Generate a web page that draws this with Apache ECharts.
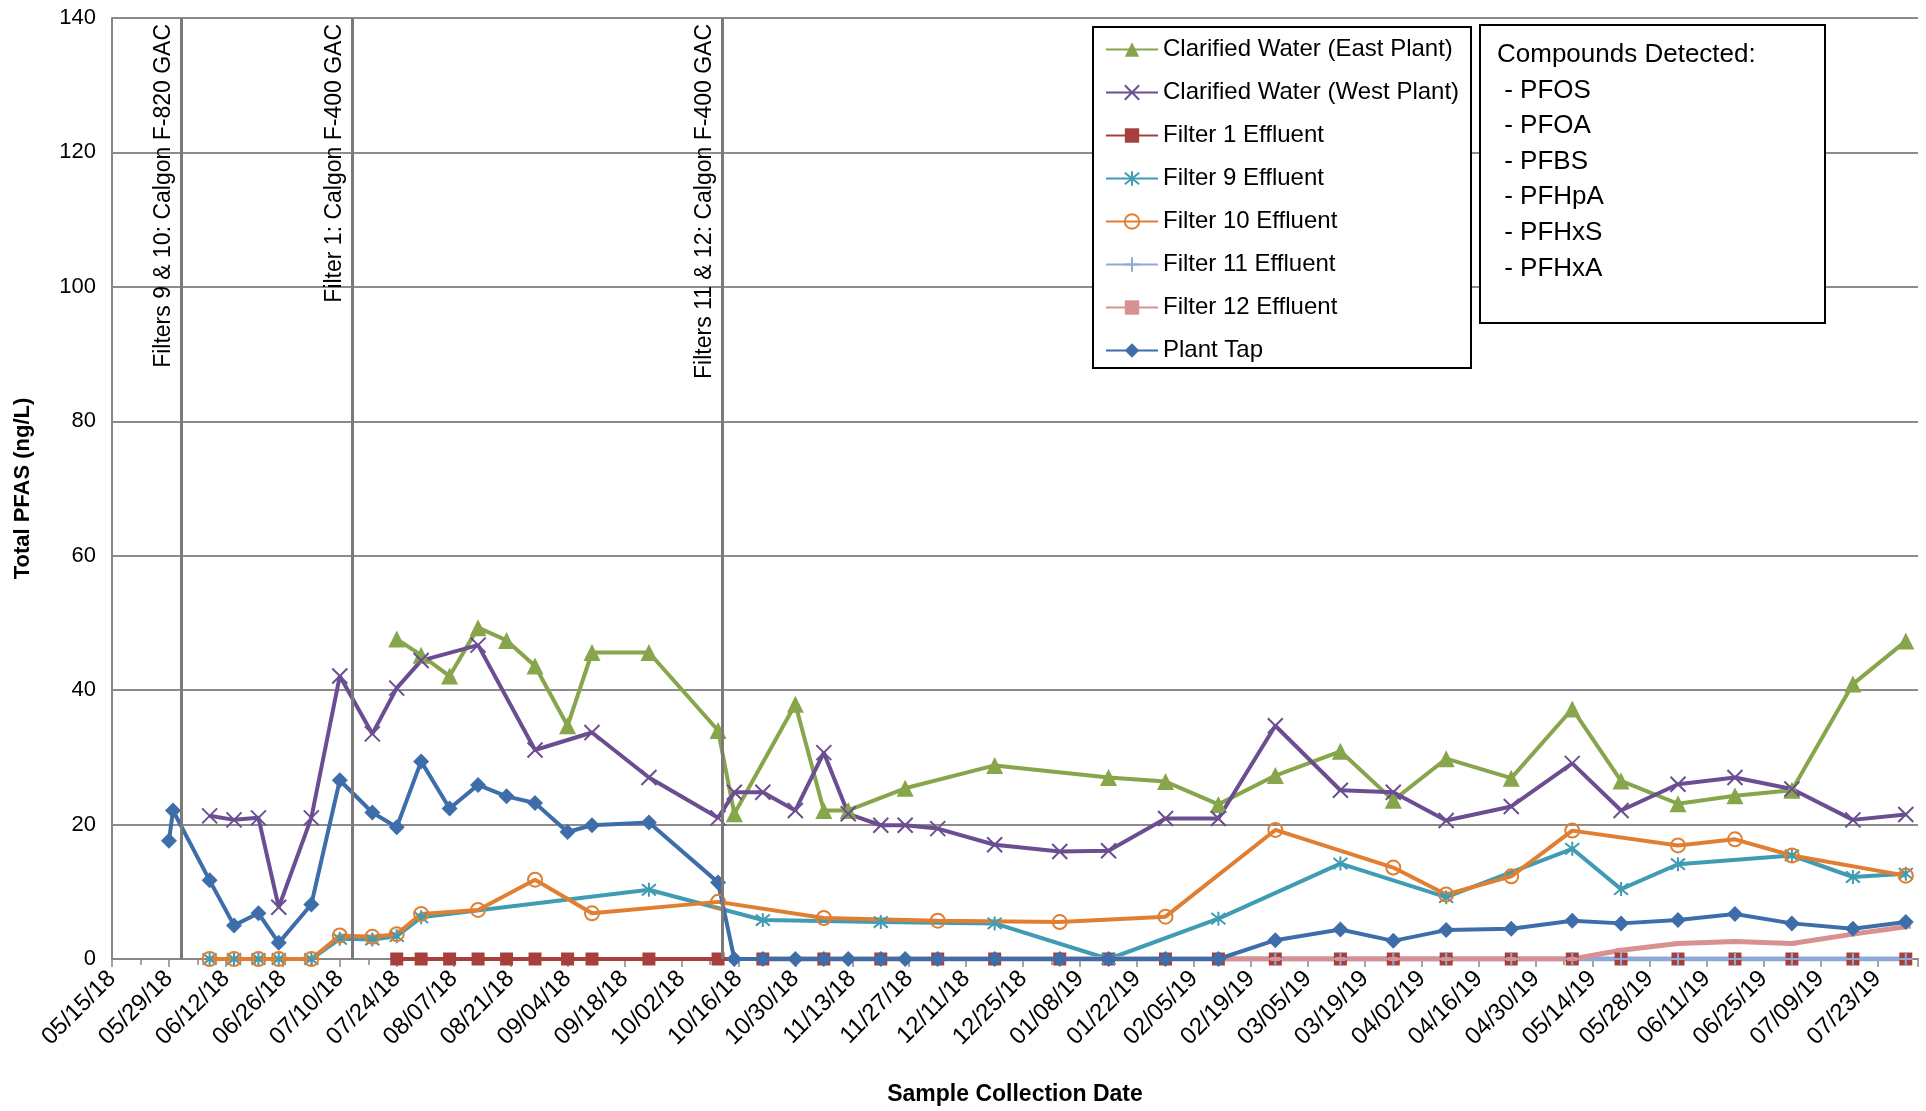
<!DOCTYPE html>
<html>
<head>
<meta charset="utf-8">
<script src="https://cdn.jsdelivr.net/npm/echarts@6/dist/echarts.min.js"></script>
<style>
    html, body { margin: 0; padding: 0; background: #fff; }
    #chart { width: 1926px; height: 1111px; }
</style>
</head>
<body>
<div id="chart"></div>
<script>
// sample data, [date, total PFAS ng/L]
var eastWater = [
    ['2018-07-24', 47.6], ['2018-07-30', 45.2], ['2018-08-06', 42.1], ['2018-08-13', 49.3],
    ['2018-08-20', 47.4], ['2018-08-27', 43.6], ['2018-09-04', 34.7], ['2018-09-10', 45.6],
    ['2018-09-24', 45.6], ['2018-10-11', 34.0], ['2018-10-15', 21.6], ['2018-10-30', 37.9],
    ['2018-11-06', 22.1], ['2018-11-12', 22.1], ['2018-11-26', 25.4], ['2018-12-18', 28.8],
    ['2019-01-15', 27.0], ['2019-01-29', 26.4], ['2019-02-11', 23.0], ['2019-02-25', 27.3],
    ['2019-03-13', 30.9], ['2019-03-26', 23.6], ['2019-04-08', 29.8], ['2019-04-24', 26.9],
    ['2019-05-09', 37.2], ['2019-05-21', 26.5], ['2019-06-04', 23.1], ['2019-06-18', 24.3],
    ['2019-07-02', 25.1], ['2019-07-17', 40.9], ['2019-07-30', 47.3]
];
var westWater = [
    ['2018-06-08', 21.3], ['2018-06-14', 20.7], ['2018-06-20', 21.0], ['2018-06-25', 7.7],
    ['2018-07-03', 21.0], ['2018-07-10', 42.1], ['2018-07-18', 33.5], ['2018-07-24', 40.3],
    ['2018-07-30', 44.4], ['2018-08-13', 46.7], ['2018-08-27', 31.1], ['2018-09-10', 33.7],
    ['2018-09-24', 27.0], ['2018-10-11', 21.0], ['2018-10-15', 24.8], ['2018-10-22', 24.8],
    ['2018-10-30', 22.1], ['2018-11-06', 30.7], ['2018-11-12', 21.6], ['2018-11-20', 19.9],
    ['2018-11-26', 19.9], ['2018-12-04', 19.4], ['2018-12-18', 17.0], ['2019-01-03', 16.0],
    ['2019-01-15', 16.1], ['2019-01-29', 20.9], ['2019-02-11', 20.9], ['2019-02-25', 34.7],
    ['2019-03-13', 25.1], ['2019-03-26', 24.8], ['2019-04-08', 20.6], ['2019-04-24', 22.7],
    ['2019-05-09', 29.1], ['2019-05-21', 22.1], ['2019-06-04', 26.0], ['2019-06-18', 27.0],
    ['2019-07-02', 25.3], ['2019-07-17', 20.7], ['2019-07-30', 21.5]
];
var filter1 = [
    ['2018-07-24', 0], ['2018-07-30', 0], ['2018-08-06', 0], ['2018-08-13', 0], ['2018-08-20', 0],
    ['2018-08-27', 0], ['2018-09-04', 0], ['2018-09-10', 0], ['2018-09-24', 0], ['2018-10-11', 0],
    ['2018-10-22', 0], ['2018-11-06', 0], ['2018-11-20', 0], ['2018-12-04', 0], ['2018-12-18', 0],
    ['2019-01-03', 0], ['2019-01-15', 0], ['2019-01-29', 0], ['2019-02-11', 0], ['2019-02-25', 0],
    ['2019-03-13', 0], ['2019-03-26', 0], ['2019-04-08', 0], ['2019-04-24', 0], ['2019-05-09', 0],
    ['2019-05-21', 0], ['2019-06-04', 0], ['2019-06-18', 0], ['2019-07-02', 0], ['2019-07-17', 0],
    ['2019-07-30', 0]
];
var filter9 = [
    ['2018-06-08', 0], ['2018-06-14', 0], ['2018-06-20', 0], ['2018-06-25', 0], ['2018-07-03', 0],
    ['2018-07-10', 3.0], ['2018-07-18', 2.9], ['2018-07-24', 3.4], ['2018-07-30', 6.2],
    ['2018-09-24', 10.3], ['2018-10-22', 5.8], ['2018-11-20', 5.5], ['2018-12-18', 5.3],
    ['2019-01-15', 0], ['2019-02-11', 6.0], ['2019-03-13', 14.2], ['2019-04-08', 9.2],
    ['2019-05-09', 16.4], ['2019-05-21', 10.4], ['2019-06-04', 14.1], ['2019-07-02', 15.4],
    ['2019-07-17', 12.2], ['2019-07-30', 12.7]
];
var filter10 = [
    ['2018-06-08', 0], ['2018-06-14', 0], ['2018-06-20', 0], ['2018-06-25', 0], ['2018-07-03', 0],
    ['2018-07-10', 3.5], ['2018-07-18', 3.3], ['2018-07-24', 3.7], ['2018-07-30', 6.7],
    ['2018-08-13', 7.3], ['2018-08-27', 11.8], ['2018-09-10', 6.8], ['2018-10-11', 8.5],
    ['2018-11-06', 6.1], ['2018-12-04', 5.7], ['2019-01-03', 5.5], ['2019-01-29', 6.3],
    ['2019-02-25', 19.2], ['2019-03-26', 13.6], ['2019-04-08', 9.6], ['2019-04-24', 12.3],
    ['2019-05-09', 19.1], ['2019-06-04', 16.9], ['2019-06-18', 17.8], ['2019-07-02', 15.4],
    ['2019-07-30', 12.4]
];
var filter11 = [
    ['2018-10-22', 0], ['2018-11-06', 0], ['2018-11-20', 0], ['2018-12-04', 0], ['2018-12-18', 0],
    ['2019-01-03', 0], ['2019-01-15', 0], ['2019-01-29', 0], ['2019-02-11', 0], ['2019-02-25', 0],
    ['2019-03-13', 0], ['2019-03-26', 0], ['2019-04-08', 0], ['2019-04-24', 0], ['2019-05-09', 0],
    ['2019-05-21', 0], ['2019-06-04', 0], ['2019-06-18', 0], ['2019-07-02', 0], ['2019-07-17', 0],
    ['2019-07-30', 0]
];
var filter12 = [
    ['2018-10-22', 0], ['2018-11-06', 0], ['2018-11-20', 0], ['2018-12-04', 0], ['2018-12-18', 0],
    ['2019-01-03', 0], ['2019-01-15', 0], ['2019-01-29', 0], ['2019-02-11', 0], ['2019-02-25', 0],
    ['2019-03-13', 0], ['2019-03-26', 0], ['2019-04-08', 0], ['2019-04-24', 0], ['2019-05-09', 0],
    ['2019-05-21', 1.3], ['2019-06-04', 2.3], ['2019-06-18', 2.6], ['2019-07-02', 2.3],
    ['2019-07-17', 3.7], ['2019-07-30', 4.8]
];
var plantTap = [
    ['2018-05-29', 17.6], ['2018-05-30', 22.1], ['2018-06-08', 11.7], ['2018-06-14', 5.0],
    ['2018-06-20', 6.8], ['2018-06-25', 2.4], ['2018-07-03', 8.1], ['2018-07-10', 26.6],
    ['2018-07-18', 21.8], ['2018-07-24', 19.6], ['2018-07-30', 29.4], ['2018-08-06', 22.4],
    ['2018-08-13', 25.9], ['2018-08-20', 24.2], ['2018-08-27', 23.2], ['2018-09-04', 18.9],
    ['2018-09-10', 19.9], ['2018-09-24', 20.3], ['2018-10-11', 11.4], ['2018-10-15', 0],
    ['2018-10-22', 0], ['2018-10-30', 0], ['2018-11-06', 0], ['2018-11-12', 0], ['2018-11-20', 0],
    ['2018-11-26', 0], ['2018-12-04', 0], ['2018-12-18', 0], ['2019-01-03', 0], ['2019-01-15', 0],
    ['2019-01-29', 0], ['2019-02-11', 0], ['2019-02-25', 2.8], ['2019-03-13', 4.4],
    ['2019-03-26', 2.7], ['2019-04-08', 4.3], ['2019-04-24', 4.5], ['2019-05-09', 5.7],
    ['2019-05-21', 5.3], ['2019-06-04', 5.8], ['2019-06-18', 6.7], ['2019-07-02', 5.3],
    ['2019-07-17', 4.5], ['2019-07-30', 5.5]
];

// GAC change-outs (vertical lines)
var gacChanges = [
    ['2018-06-01', 'Filters 9 & 10: Calgon F-820 GAC'],
    ['2018-07-13', 'Filter 1: Calgon F-400 GAC'],
    ['2018-10-12', 'Filters 11 & 12: Calgon F-400 GAC']
];
var compounds = ['PFOS', 'PFOA', 'PFBS', 'PFHpA', 'PFHxS', 'PFHxA'];

var axisStart = '2018-05-15';
var axisEnd = '2019-08-02';
var dayStep = 14;
var yMax = 140, yStep = 20;

var FONT = 'Liberation Sans';

function dayOf(s) {
    var p = s.split('-');
    var a = axisStart.split('-');
    return (Date.UTC(+p[0], p[1] - 1, +p[2]) - Date.UTC(+a[0], a[1] - 1, +a[2])) / 86400000;
}
function fmtDay(v) {
    var a = axisStart.split('-');
    var d = new Date(Date.UTC(+a[0], a[1] - 1, +a[2]) + v * 86400000);
    var mm = ('0' + (d.getUTCMonth() + 1)).slice(-2);
    var dd = ('0' + d.getUTCDate()).slice(-2);
    var yy = ('' + d.getUTCFullYear()).slice(-2);
    return mm + '/' + dd + '/' + yy;
}
function toPts(arr) {
    return arr.map(function (p) { return [dayOf(p[0]), p[1]]; });
}

//markers
var xMark = 'path://M0,0L10,10M10,0L0,10';
var starMark = 'path://M1,1L9,9M9,1L1,9M5,0L5,10';
var plusMark = 'path://M5,0L5,10M0,5L10,5';

function lineSeries(name, data, color, symbol, size, strokeOnly) {
    var s = {
        name: name,
        type: 'line',
        data: toPts(data),
        symbol: symbol,
        symbolSize: size,
        lineStyle: {color: color, width: 4},
        itemStyle: {color: color},
        emphasis: {disabled: true}
    };
    if (strokeOnly) {
        s.itemStyle = {color: 'none', borderColor: color, borderWidth: 2};
    }
    return s;
}

var series = [
    lineSeries('Clarified Water (East Plant)', eastWater, '#87A54A', 'triangle', 17),
    lineSeries('Clarified Water (West Plant)', westWater, '#6B4E92', xMark, 15, true),
    lineSeries('Filter 1 Effluent', filter1, '#A7403C', 'rect', 13),
    lineSeries('Filter 9 Effluent', filter9, '#3F9CB3', starMark, 14, true),
    lineSeries('Filter 10 Effluent', filter10, '#E07F32', 'circle', 14, true),
    lineSeries('Filter 11 Effluent', filter11, '#8FA9D6', plusMark, 14, true),
    lineSeries('Filter 12 Effluent', filter12, '#D69190', 'rect', [10, 4]),
    lineSeries('Plant Tap', plantTap, '#3E6EAA', 'diamond', 16)
];
series[6].lineStyle.width = 5;
series[5].lineStyle.width = 5;

//vertical lines for the carbon change-outs
series.push({
    name: 'gac',
    type: 'line',
    data: [],
    silent: true,
    markLine: {
        symbol: 'none',
        silent: true,
        animation: false,
        lineStyle: {color: '#7A7A7A', width: 3, type: 'solid'},
        label: {
            show: true,
            position: 'insideEndTop',
            formatter: '{b}',
            color: '#000',
            fontFamily: FONT,
            fontSize: 23,
            distance: 6
        },
        data: gacChanges.map(function (g) {
            return {name: g[1], xAxis: dayOf(g[0])};
        })
    }
});

var chart = echarts.init(document.getElementById('chart'));
var option = {
    animation: false,
    backgroundColor: '#fff',
    textStyle: {fontFamily: FONT},
    grid: {left: 112, right: 8, top: 18, bottom: 152},
    legend: {
        data: series.slice(0, 8).map(function (s) { return s.name; }),
        orient: 'vertical',
        left: 1100,
        top: 32,
        itemWidth: 52,
        itemHeight: 18,
        itemGap: 18,
        z: 10,
        textStyle: {fontSize: 24, color: '#000', fontFamily: FONT, lineHeight: 25},
        selectedMode: false
    },
    xAxis: {
        type: 'value',
        min: 0,
        max: dayOf(axisEnd),
        interval: dayStep,
        name: 'Sample Collection Date',
        nameLocation: 'middle',
        nameGap: 124,
        nameTextStyle: {fontWeight: 'bold', fontSize: 23, color: '#000', fontFamily: FONT},
        axisLine: {lineStyle: {color: '#868686', width: 2}},
        axisTick: {length: 8, lineStyle: {color: '#868686', width: 1.5}},
        minorTick: {show: true, splitNumber: 2, length: 6, lineStyle: {color: '#868686', width: 1.5}},
        splitLine: {show: false},
        axisLabel: {
            rotate: 45,
            fontSize: 24,
            color: '#000',
            margin: 16,
            showMaxLabel: false,
            formatter: fmtDay
        }
    },
    yAxis: {
        type: 'value',
        min: 0,
        max: yMax,
        interval: yStep,
        name: 'Total PFAS (ng/L)',
        nameLocation: 'middle',
        nameGap: 78,
        nameTextStyle: {fontWeight: 'bold', fontSize: 22, color: '#000', fontFamily: FONT},
        axisLine: {show: true, lineStyle: {color: '#868686', width: 2}},
        axisTick: {show: false},
        splitLine: {lineStyle: {color: '#8C8C8C', width: 2}},
        axisLabel: {fontSize: 22, color: '#000', margin: 16}
    },
    graphic: [
        {
            type: 'rect', z: 5,
            shape: {x: 1093, y: 27, width: 378, height: 341},
            style: {fill: '#fff', stroke: '#000', lineWidth: 2}
        },
        {
            type: 'rect', z: 5,
            shape: {x: 1480, y: 25, width: 345, height: 298},
            style: {fill: '#fff', stroke: '#000', lineWidth: 2}
        },
        {
            type: 'text', z: 10,
            left: 1497, top: 37,
            style: {
                text: ['Compounds Detected:'].concat(compounds.map(function (c) { return ' - ' + c; })).join('\n'),
                font: '26px "Liberation Sans"',
                fill: '#000',
                lineHeight: 35.6
            }
        }
    ],
    series: series
};
chart.setOption(option);
</script>
</body>
</html>
